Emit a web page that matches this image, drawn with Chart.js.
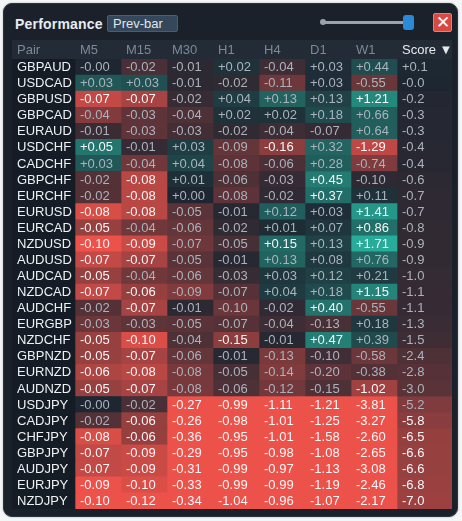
<!DOCTYPE html>
<html><head><meta charset="utf-8">
<script src="https://cdn.jsdelivr.net/npm/chart.js@4"></script>
<style>
html,body{margin:0;padding:0;background:#f4f5f6;width:462px;height:521px;overflow:hidden;font-family:"Liberation Sans",Arial,sans-serif}
#panel{position:absolute;left:3px;top:3px;width:453px;height:512px;background:#1b212b;border-radius:9px;box-shadow:0 0 2px #aaa;border:1px solid #2c3440}
#title{position:absolute;left:15px;top:16px;color:#e8ecf0;font-size:14px;font-weight:bold;letter-spacing:0.2px}
#btn{position:absolute;left:107px;top:15px;width:71px;height:17px;background:#35475a;border:1px solid #4a5d70;color:#dfe6ec;font-size:13px;line-height:16px;box-sizing:border-box;padding-left:5px;border-radius:2px}
#line{position:absolute;left:322px;top:21px;width:86px;height:3px;background:#9aa3ad;border-radius:2px}
#dot{position:absolute;left:320px;top:19px;width:6px;height:6px;background:#9aa3ad;border-radius:3px}
#knob{position:absolute;left:403px;top:15px;width:11px;height:15px;background:#2b8ad6;border-radius:3px}
#close{position:absolute;left:433px;top:13px;width:19px;height:19px;background:#d84a3f;color:#fff;font-size:17px;line-height:18px;text-align:center;border-radius:2px;border:1px solid #f07a70;box-sizing:border-box}
#tbl{position:absolute;left:12px;top:40px;width:440px;height:469px;background:#222b36}
</style></head><body>
<div id="panel"></div>
<div id="title">Performance</div>
<div id="btn">Prev-bar</div>
<div id="dot"></div><div id="line"></div><div id="knob"></div>
<div id="close">✕</div>
<div id="tbl"><canvas id="c" width="440" height="469"></canvas></div>
<script>
const pairs=["GBPAUD","USDCAD","GBPUSD","GBPCAD","EURAUD","USDCHF","CADCHF","GBPCHF","EURCHF","EURUSD","EURCAD","NZDUSD","AUDUSD","AUDCAD","NZDCAD","AUDCHF","EURGBP","NZDCHF","GBPNZD","EURNZD","AUDNZD","USDJPY","CADJPY","CHFJPY","GBPJPY","AUDJPY","EURJPY","NZDJPY"];
const headers=["Pair","M5","M15","M30","H1","H4","D1","W1","Score ▼"];
const M5=["-0.00","+0.03","-0.07","-0.04","-0.01","+0.05","+0.03","-0.02","-0.02","-0.08","-0.05","-0.10","-0.07","-0.05","-0.07","-0.02","-0.03","-0.05","-0.05","-0.06","-0.05","-0.00","-0.02","-0.08","-0.07","-0.07","-0.09","-0.10"];
const M15=["-0.02","+0.03","-0.07","-0.03","-0.03","-0.01","-0.04","-0.08","-0.08","-0.08","-0.04","-0.09","-0.07","-0.04","-0.06","-0.07","-0.03","-0.10","-0.07","-0.08","-0.07","-0.02","-0.06","-0.06","-0.09","-0.09","-0.10","-0.12"];
const M30=["-0.01","-0.01","-0.02","-0.04","-0.03","+0.03","+0.04","+0.01","+0.00","-0.05","-0.06","-0.07","-0.05","-0.06","-0.09","-0.01","-0.05","-0.04","-0.06","-0.08","-0.08","-0.27","-0.26","-0.36","-0.29","-0.31","-0.33","-0.34"];
const H1=["+0.02","-0.02","+0.04","+0.02","-0.02","-0.09","-0.08","-0.06","-0.08","-0.01","-0.02","-0.05","-0.01","-0.03","-0.07","-0.10","-0.07","-0.15","-0.01","-0.05","-0.06","-0.99","-0.98","-0.95","-0.95","-0.99","-0.99","-1.04"];
const H4=["-0.04","-0.11","+0.13","+0.02","-0.04","-0.16","-0.06","-0.03","-0.02","+0.12","+0.01","+0.15","+0.13","+0.03","+0.04","-0.02","-0.04","-0.01","-0.13","-0.14","-0.12","-1.11","-1.01","-1.01","-0.98","-0.97","-0.99","-0.96"];
const D1=["+0.03","+0.03","+0.13","+0.18","-0.07","+0.32","+0.28","+0.45","+0.37","+0.03","+0.07","+0.13","+0.08","+0.12","+0.18","+0.40","-0.13","+0.47","-0.10","-0.20","-0.15","-1.21","-1.25","-1.58","-1.08","-1.13","-1.19","-1.07"];
const W1=["+0.44","-0.55","+1.21","+0.66","+0.64","-1.29","-0.74","-0.10","+0.11","+1.41","+0.86","+1.71","+0.76","+0.21","+1.15","-0.55","+0.18","+0.39","-0.58","-0.38","-1.02","-3.81","-3.27","-2.60","-2.65","-3.08","-2.46","-2.17"];
const Score=["+0.1","-0.0","-0.2","-0.3","-0.3","-0.4","-0.4","-0.6","-0.7","-0.7","-0.8","-0.9","-0.9","-1.0","-1.1","-1.1","-1.3","-1.5","-2.4","-2.8","-3.0","-5.2","-5.8","-6.5","-6.6","-6.6","-6.8","-7.0"];
const cols=[M5,M15,M30,H1,H4,D1,W1,Score];
// full-intensity reference magnitude per column (colour scale)
const refs=[0.09,0.11,0.2,0.3,0.32,0.75,1.7,12];
const edges=[0,63,109,155,201,247,293,339,385,440];

const base=[30,38,49], red=[236,82,74], teal=[38,172,152];
function mix(c,t){return `rgb(${c.map((v,i)=>Math.round(base[i]+(v-base[i])*t)).join(',')})`;}
function intensity(s,ref){return Math.min(1,Math.abs(parseFloat(s))/ref);}
function cellColor(s,ref){const v=parseFloat(s);if(v===0)return mix(red,0);return mix(v>0?teal:red,Math.pow(intensity(s,ref),0.9));}

const datasets=[{data:pairs.map(()=>[edges[0],edges[1]]),backgroundColor:'#151c25'}];
cols.forEach((c,i)=>datasets.push({data:c.map(()=>[edges[i+1],edges[i+2]]),backgroundColor:c.map(v=>cellColor(v,refs[i]))}));
datasets.forEach(d=>{d.barPercentage=1;d.categoryPercentage=1;d.borderWidth=0;d.grouped=false;});

const textPlugin={id:'txt',afterDatasetsDraw(ch){
  const ctx=ch.ctx,x=ch.scales.x,y=ch.scales.y;
  ctx.save();ctx.font='13px "Liberation Sans",Arial';ctx.textBaseline='middle';
  headers.forEach((h,i)=>{ctx.fillStyle=i===8?'#e6eaee':'#7d8896';ctx.fillText(h,x.getPixelForValue(edges[i])+5,10);});
  pairs.forEach((p,r)=>{const yy=y.getPixelForValue(r)+0.5;
    ctx.fillStyle='#eef1f4';ctx.fillText(p,x.getPixelForValue(edges[0])+5,yy);
    cols.forEach((c,i)=>{const t=intensity(c[r],refs[i]);ctx.fillStyle=t>0.45?'#f4f6f8':'#aab3bd';ctx.fillText(c[r],x.getPixelForValue(edges[i+1])+5,yy);});
  });
  ctx.restore();}};

new Chart(document.getElementById('c'),{type:'bar',
 data:{labels:pairs,datasets},
 options:{indexAxis:'y',responsive:false,animation:false,events:[],
  layout:{padding:{top:19,left:0,right:0,bottom:0}},
  plugins:{legend:{display:false},tooltip:{enabled:false}},
  scales:{x:{type:'linear',min:0,max:440,display:false},y:{type:'category',display:false,offset:true}}},
 plugins:[textPlugin]});
</script></body></html>
